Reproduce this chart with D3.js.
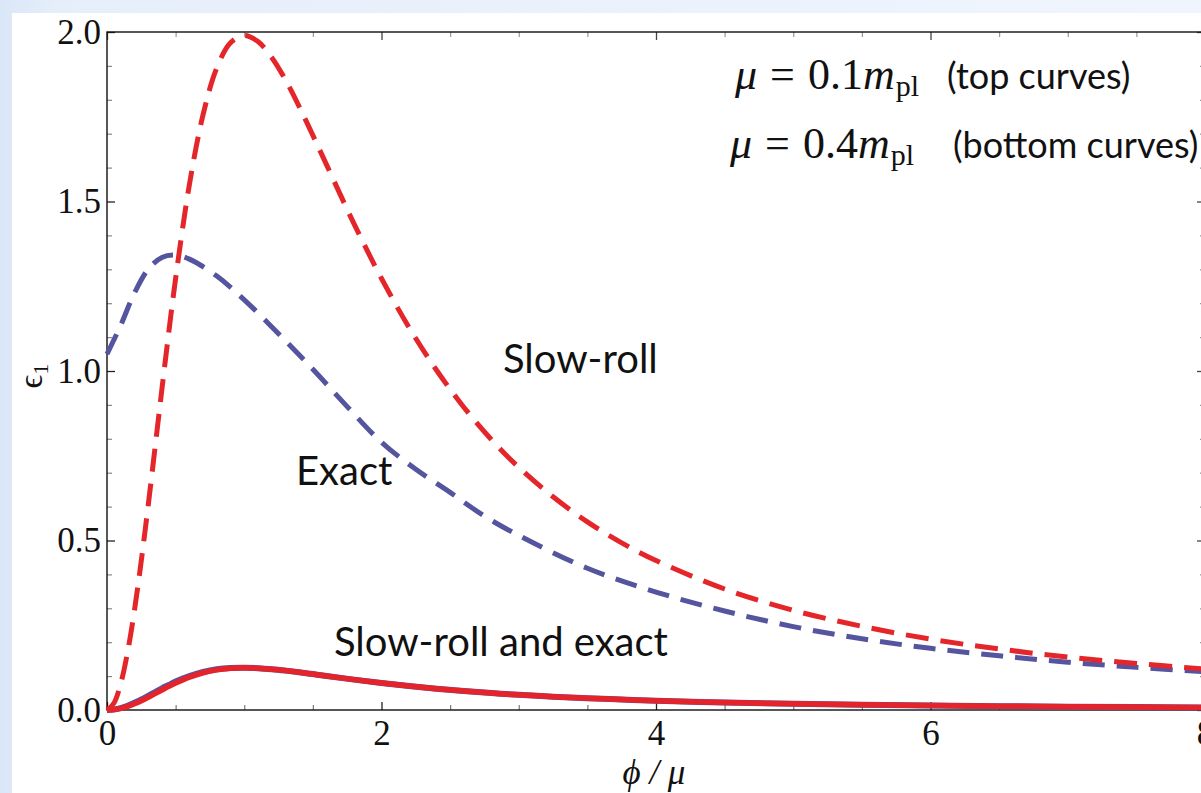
<!DOCTYPE html>
<html>
<head>
<meta charset="utf-8">
<script src="https://cdn.jsdelivr.net/npm/d3@7"></script>
<style>
  html, body { margin: 0; padding: 0; background: #e8f0fb; }
  svg { display: block; }
</style>
</head>
<body>
<svg id="chart" width="1201" height="793"></svg>
<script>
// ---------- data ----------
const xTicksMajor = [0, 2, 4, 6, 8];
const yTicksMajor = [0, 0.5, 1.0, 1.5, 2.0];
const yTickLabels = ["0.0", "0.5", "1.0", "1.5", "2.0"];

// phi / mu sample points
const phiTop = [0, 0.05, 0.1, 0.15, 0.2, 0.25, 0.3, 0.35, 0.4, 0.45, 0.5, 0.6, 0.7, 0.8, 0.9, 1.0,
  1.1, 1.2, 1.3, 1.4, 1.5, 1.6, 1.8, 2.0, 2.2, 2.4, 2.6, 2.8, 3.0, 3.25, 3.5, 3.75, 4.0, 4.5,
  5.0, 5.5, 6.0, 6.5, 7.0, 7.5, 8.0];
// slow-roll, mu = 0.1 m_pl (red dashed)
const slowRollTop = [0, 0.020, 0.078, 0.171, 0.294, 0.441, 0.603, 0.774, 0.946, 1.114, 1.273,
  1.549, 1.756, 1.894, 1.968, 1.990, 1.972, 1.925, 1.859, 1.780, 1.695, 1.608, 1.434, 1.273,
  1.129, 1.003, 0.893, 0.798, 0.716, 0.629, 0.555, 0.493, 0.441, 0.357, 0.294, 0.247, 0.209,
  0.180, 0.156, 0.137, 0.121];

const phiExactTop = [0, 0.1, 0.2, 0.3, 0.4, 0.5, 0.6, 0.8, 1.0, 1.25, 1.5, 1.75, 2.0, 2.25, 2.5,
  2.75, 3.0, 3.5, 4.0, 4.5, 5.0, 5.5, 6.0, 6.5, 7.0, 7.5, 8.0];
// exact, mu = 0.1 m_pl (blue dashed)
const exactTop = [1.05, 1.135, 1.23, 1.30, 1.335, 1.342, 1.33, 1.28, 1.21, 1.11, 1.005, 0.895,
  0.79, 0.71, 0.642, 0.572, 0.515, 0.418, 0.348, 0.292, 0.246, 0.210, 0.182, 0.160, 0.141,
  0.126, 0.113];

// slow-roll, mu = 0.4 m_pl (red solid)
const slowRollBottom = [0, 0.0012, 0.0049, 0.0107, 0.0184, 0.0275, 0.0377, 0.0484, 0.0591,
  0.0697, 0.0796, 0.0968, 0.1098, 0.1184, 0.1230, 0.1244, 0.1232, 0.1203, 0.1162, 0.1113,
  0.1060, 0.1005, 0.0896, 0.0796, 0.0706, 0.0627, 0.0558, 0.0499, 0.0448, 0.0393, 0.0347,
  0.0308, 0.0275, 0.0223, 0.0184, 0.0154, 0.0131, 0.0112, 0.0097, 0.0085, 0.0075];
// exact, mu = 0.4 m_pl (blue solid, almost hidden)
const exactBottom = [0, 0.0014, 0.0055, 0.0125, 0.0215, 0.031, 0.042, 0.053, 0.064, 0.074,
  0.084, 0.100, 0.112, 0.1200, 0.1238, 0.1248, 0.1234, 0.1204, 0.1162, 0.1113, 0.1060, 0.1005,
  0.0896, 0.0796, 0.0706, 0.0627, 0.0558, 0.0499, 0.0448, 0.0393, 0.0347, 0.0308, 0.0275,
  0.0223, 0.0184, 0.0154, 0.0131, 0.0112, 0.0097, 0.0085, 0.0075];

// ---------- drawing ----------
const svg = d3.select("#chart");
const W = 1201, H = 793;

const defs = svg.append("defs");
const grad = defs.append("linearGradient").attr("id", "bg").attr("x1", 0).attr("x2", 1).attr("y1", 0).attr("y2", 0);
grad.append("stop").attr("offset", "0").attr("stop-color", "#dae7f8");
grad.append("stop").attr("offset", "0.05").attr("stop-color", "#e6eefa");
grad.append("stop").attr("offset", "1").attr("stop-color", "#f0f5fd");
svg.append("rect").attr("width", W).attr("height", H).attr("fill", "url(#bg)");
svg.append("rect").attr("x", 12).attr("y", 13).attr("width", W - 12).attr("height", H - 13).attr("fill", "#ffffff");

const x = d3.scaleLinear().domain([0, 8]).range([107, 1205]);
const y = d3.scaleLinear().domain([0, 2]).range([710, 32]);

const serif = "'Liberation Serif', 'Times New Roman', serif";
const sans = "Lato, 'Open Sans', sans-serif";

// minor ticks
const xMinor = d3.range(0, 8.01, 0.5).filter(v => Math.abs(v % 2) > 1e-6);
const yMinor = d3.range(0, 2.001, 0.1).map(v => +v.toFixed(1)).filter(v => Math.abs((v * 10) % 5) > 1e-6);

function styleAxis(g, color, width) {
  g.select(".domain").remove();
  g.selectAll(".tick line").attr("stroke", color).attr("stroke-width", width);
}

// bottom axis
svg.append("g").attr("transform", `translate(0,${y(0)})`)
  .call(d3.axisBottom(x).tickValues(xMinor).tickSize(-5).tickFormat(""))
  .call(g => styleAxis(g, "#777", 1.2));
svg.append("g").attr("transform", `translate(0,${y(0)})`)
  .call(d3.axisBottom(x).tickValues(xTicksMajor).tickSize(-8).tickPadding(10).tickFormat(d3.format("d")))
  .call(g => styleAxis(g, "#222", 1.3))
  .call(g => g.selectAll("text").attr("font-family", serif).attr("font-size", 35).attr("fill", "#111"));
// top axis (mirror ticks)
svg.append("g").attr("transform", `translate(0,${y(2)})`)
  .call(d3.axisTop(x).tickValues(xMinor).tickSize(-5).tickFormat(""))
  .call(g => styleAxis(g, "#999", 1.2));
svg.append("g").attr("transform", `translate(0,${y(2)})`)
  .call(d3.axisTop(x).tickValues(xTicksMajor).tickSize(-8).tickFormat(""))
  .call(g => styleAxis(g, "#444", 1.3));
// left axis
svg.append("g").attr("transform", `translate(${x(0)},0)`)
  .call(d3.axisLeft(y).tickValues(yMinor).tickSize(-5).tickFormat(""))
  .call(g => styleAxis(g, "#888", 1.2));
svg.append("g").attr("transform", `translate(${x(0)},0)`)
  .call(d3.axisLeft(y).tickValues(yTicksMajor).tickSize(-8).tickPadding(6).tickFormat((d, i) => yTickLabels[i]))
  .call(g => styleAxis(g, "#222", 1.3))
  .call(g => g.selectAll("text").attr("font-family", serif).attr("font-size", 35).attr("fill", "#111"));
// right axis (mirror ticks)
svg.append("g").attr("transform", `translate(${x(8)},0)`)
  .call(d3.axisRight(y).tickValues(yMinor).tickSize(-5).tickFormat(""))
  .call(g => styleAxis(g, "#999", 1.2));
svg.append("g").attr("transform", `translate(${x(8)},0)`)
  .call(d3.axisRight(y).tickValues(yTicksMajor).tickSize(-8).tickFormat(""))
  .call(g => styleAxis(g, "#444", 1.3));

// frame
svg.append("rect").attr("x", x(0)).attr("y", y(2)).attr("width", x(8) - x(0)).attr("height", y(0) - y(2))
  .attr("fill", "none").attr("stroke", "#111").attr("stroke-width", 1.4);

// curves
const line = d3.line().x(d => x(d[0])).y(d => y(d[1])).curve(d3.curveCatmullRom.alpha(0.5));
const zip = (a, b) => a.map((v, i) => [v, b[i]]);

const plot = svg.append("g");
plot.append("path").datum(zip(phiTop, exactBottom)).attr("d", line)
  .attr("fill", "none").attr("stroke", "#55559f").attr("stroke-width", 6);
plot.append("path").datum(zip(phiTop, slowRollBottom)).attr("d", line)
  .attr("fill", "none").attr("stroke", "#e4232a").attr("stroke-width", 5.5);
plot.append("path").datum(zip(phiExactTop, exactTop)).attr("d", line)
  .attr("fill", "none").attr("stroke", "#55559f").attr("stroke-width", 5)
  .attr("stroke-dasharray", "22,12");
plot.append("path").datum(zip(phiTop, slowRollTop)).attr("d", line)
  .attr("fill", "none").attr("stroke", "#e4262b").attr("stroke-width", 5)
  .attr("stroke-dasharray", "23,12");

// axis labels
svg.append("text").attr("x", 654).attr("y", 784).attr("text-anchor", "middle")
  .attr("font-family", serif).attr("font-size", 35).attr("font-style", "italic").attr("fill", "#111")
  .text("ϕ / μ");
const yl = svg.append("text").attr("transform", "translate(42,376) rotate(-90)")
  .attr("text-anchor", "middle").attr("font-family", serif).attr("font-size", 34).attr("fill", "#111");
yl.append("tspan").text("ϵ");
yl.append("tspan").attr("font-size", 22).attr("dy", 6).text("1");

// curve annotations
const ann = [
  { t: "Slow-roll", x: 503, y: 373 },
  { t: "Exact", x: 296, y: 485 },
  { t: "Slow-roll and exact", x: 334, y: 656 }
];
svg.selectAll("text.ann").data(ann).join("text").attr("class", "ann")
  .attr("x", d => d.x).attr("y", d => d.y)
  .attr("font-family", sans).attr("font-size", 40).attr("fill", "#111").text(d => d.t);

// parameter legend
function mathLine(xb, yb, val) {
  const t = svg.append("text").attr("x", xb).attr("y", yb)
    .attr("font-family", serif).attr("font-size", 44).attr("fill", "#111");
  t.append("tspan").attr("font-style", "italic").text("μ");
  t.append("tspan").attr("dx", 13).text("=");
  t.append("tspan").attr("dx", 13).text(val);
  t.append("tspan").attr("font-style", "italic").text("m");
  t.append("tspan").attr("font-size", 30).attr("dy", 7).attr("dx", 1).text("pl");
}
mathLine(735, 89, "0.1");
mathLine(730, 158, "0.4");
svg.append("text").attr("x", 947).attr("y", 89).attr("font-family", sans).attr("font-size", 36)
  .attr("fill", "#111").text("(top curves)");
svg.append("text").attr("x", 953).attr("y", 158).attr("font-family", sans).attr("font-size", 36)
  .attr("fill", "#111").text("(bottom curves)");
</script>
</body>
</html>
